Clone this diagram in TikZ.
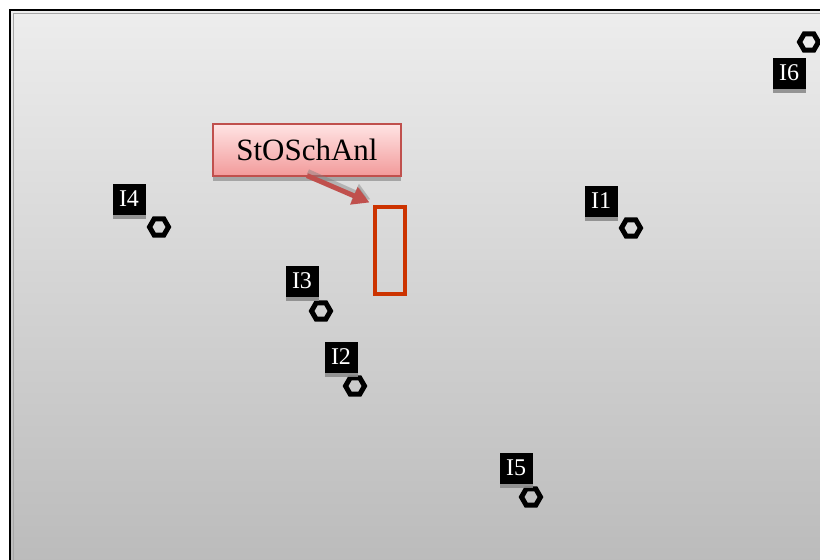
\documentclass[tikz,border=0pt]{standalone}
\usepackage{fontspec}
\setmainfont{Liberation Serif}
\usetikzlibrary{shapes.geometric,shadows,arrows.meta}
\definecolor{bgtop}{HTML}{EDEDED}
\definecolor{bgbot}{HTML}{BBBBBB}
\definecolor{calltop}{HTML}{FFE4E4}
\definecolor{callbot}{HTML}{F29A9A}
\definecolor{callborder}{HTML}{C0504D}
\definecolor{markred}{HTML}{CC3300}
\tikzset{
  hexmark/.style={regular polygon, regular polygon sides=6, draw=black, line width=5pt, inner sep=0pt, minimum size=19pt},
  tag/.style={fill=black, text=white, inner sep=0pt, minimum width=33pt, minimum height=31pt, font=\fontsize{24}{24}\selectfont,
    drop shadow={shadow xshift=0pt, shadow yshift=-4pt, fill=gray!90, opacity=0.9}},
  callout/.style={draw=callborder, line width=1.2pt, top color=calltop, bottom color=callbot, minimum width=188pt, minimum height=52pt, inner sep=0pt,
    font=\fontsize{31}{31}\selectfont, drop shadow={shadow xshift=0pt, shadow yshift=-5pt, fill=gray, opacity=0.6}},
  markbox/.style={draw=markred, line width=4pt, minimum width=30pt, minimum height=87pt, inner sep=0pt},
  callarrow/.style={draw=callborder, line width=5pt, -{Triangle[length=17pt,width=18pt]}},
  arrowshadow/.style={draw=gray, opacity=0.45, line width=5pt, -{Triangle[length=17pt,width=18pt]}}
}
\begin{document}
\begin{tikzpicture}[x=1pt,y=-1pt]
\useasboundingbox (0,0) rectangle (820,560);
\fill[white] (0,0) rectangle (820,560);
\shade[top color=bgtop, bottom color=bgbot] (10,10) rectangle (824,564);
\draw[gray!70, line width=1pt] (13,13) -- (824,13);
\draw[gray!70, line width=1pt] (13,13) -- (13,564);
\draw[black, line width=2.5pt] (10,564) -- (10,10) -- (824,10);

\node[hexmark] (h1) at (631,228) {};
\node[hexmark] (h2) at (355,386) {};
\node[hexmark] (h3) at (321,311) {};
\node[hexmark] (h4) at (159,227) {};
\node[hexmark] (h5) at (531,497) {};
\node[hexmark] (h6) at (809,42) {};

\node[tag] (t1) at (601,201) {I1};
\node[tag] (t2) at (341,357) {I2};
\node[tag] (t3) at (302,281) {I3};
\node[tag] (t4) at (129,199) {I4};
\node[tag] (t5) at (516,468) {I5};
\node[tag] (t6) at (789,73) {I6};

\node[markbox] (r) at (389.5,250) {};
\node[callout] (c) at (307,150) {StOSchAnl};
\draw[arrowshadow] ([xshift=1pt,yshift=5pt]c.south) -- ([xshift=-2pt,yshift=5pt]r.north west);
\draw[callarrow] ([yshift=1pt]c.south) -- ([xshift=-3pt,yshift=2pt]r.north west);
\end{tikzpicture}
\end{document}
